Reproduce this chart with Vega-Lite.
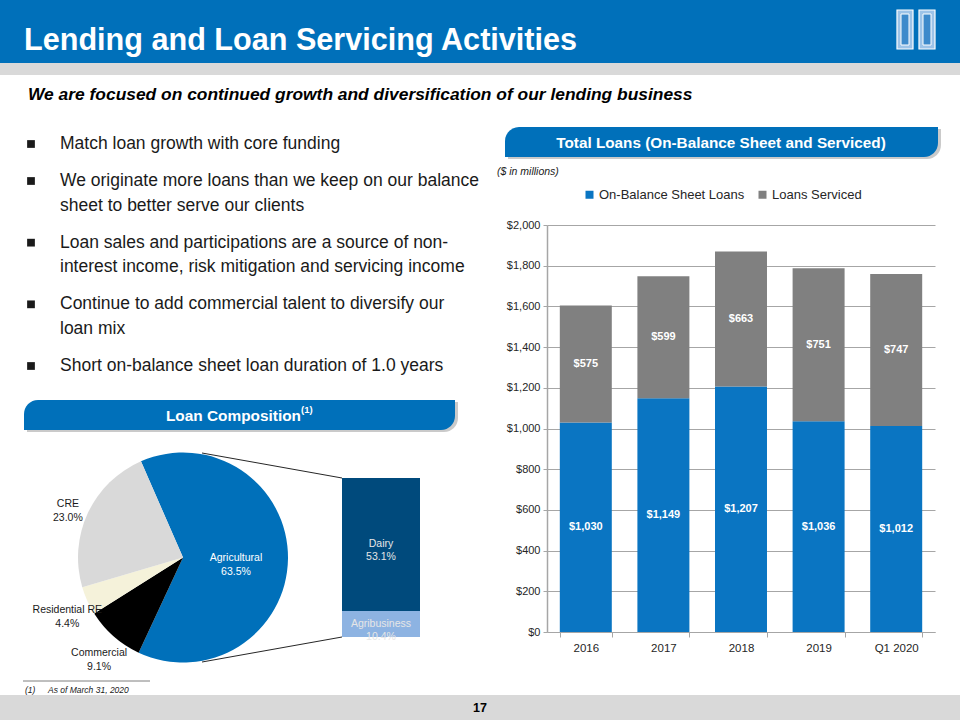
{
  "$schema": "https://vega.github.io/schema/vega-lite/v6.json",
  "padding": 0,
  "spacing": 0,
  "bounds": "full",
  "resolve": {"scale": {"color": "independent"}, "legend": {"color": "independent"}},
  "config": {"view": {"stroke": null}, "font": "Liberation Sans", "concat": {"spacing": 0}},
  "vconcat": [
    {
      "width": 960, "height": 63,
      "data": {"values": [{"title": "Lending and Loan Servicing Activities"}]},
      "layer": [
        {"mark": {"type": "rect", "color": "#0070BA"}, "encoding": {}},
        {"mark": {"type": "text", "align": "left", "baseline": "alphabetic", "color": "white", "fontSize": 30.6, "fontWeight": "bold"},
         "encoding": {"text": {"field": "title"}, "x": {"value": 24}, "y": {"value": 50}}},
        {"mark": {"type": "rect", "fill": "#9CC3E8", "stroke": "white", "strokeWidth": 1.2}, "encoding": {"x": {"value": 897}, "x2": {"value": 913}, "y": {"value": 10}, "y2": {"value": 49}}},
        {"mark": {"type": "rect", "fill": "#3D8ACB", "stroke": "white", "strokeWidth": 1}, "encoding": {"x": {"value": 901}, "x2": {"value": 909}, "y": {"value": 14}, "y2": {"value": 45}}},
        {"mark": {"type": "rect", "fill": "#9CC3E8", "stroke": "white", "strokeWidth": 1.2}, "encoding": {"x": {"value": 919}, "x2": {"value": 935}, "y": {"value": 10}, "y2": {"value": 49}}},
        {"mark": {"type": "rect", "fill": "#3D8ACB", "stroke": "white", "strokeWidth": 1}, "encoding": {"x": {"value": 923}, "x2": {"value": 931}, "y": {"value": 14}, "y2": {"value": 45}}}
      ]
    },
    {"width": 960, "height": 12, "data": {"values": [{"strip": "gray"}]}, "mark": {"type": "rect", "color": "#D9D9D9"}, "encoding": {}},
    {
      "width": 960, "height": 43,
      "data": {"values": [{"t": "We are focused on continued growth and diversification of our lending business"}]},
      "mark": {"type": "text", "align": "left", "baseline": "middle", "fontSize": 17.4, "fontWeight": "bold", "fontStyle": "italic", "color": "#000000"},
      "encoding": {"text": {"field": "t"}, "x": {"value": 28}, "y": {"value": 20}}
    },
    {
      "spacing": 0,
      "bounds": "full",
      "resolve": {"scale": {"color": "independent"}, "legend": {"color": "independent"}},
      "hconcat": [
        {
          "spacing": 0,
          "bounds": "flush",
          "resolve": {"scale": {"color": "independent"}, "legend": {"color": "independent"}},
          "vconcat": [
            {
              "width": 490, "height": 280,
              "data": {"values": [
                {"line": 0, "bullet": true, "text": "Match loan growth with core funding"},
                {"line": 3, "bullet": true, "text": "We originate more loans than we keep on our balance"},
                {"line": 5, "bullet": false, "text": "sheet to better serve our clients"},
                {"line": 8, "bullet": true, "text": "Loan sales and participations are a source of non-"},
                {"line": 10, "bullet": false, "text": "interest income, risk mitigation and servicing income"},
                {"line": 13, "bullet": true, "text": "Continue to add commercial talent to diversify our"},
                {"line": 15, "bullet": false, "text": "loan mix"},
                {"line": 18, "bullet": true, "text": "Short on-balance sheet loan duration of 1.0 years"}
              ]},
              "layer": [
                {"transform": [{"filter": "datum.bullet"}],
                 "mark": {"type": "square", "size": 60, "color": "#1A1A1A", "opacity": 1},
                 "encoding": {"x": {"value": 31}, "y": {"field": "line", "type": "quantitative", "scale": {"domain": [0, 18], "range": [26, 248]}, "axis": null}}},
                {"mark": {"type": "text", "align": "left", "baseline": "middle", "fontSize": 17.5, "color": "#1A1A1A"},
                 "encoding": {"x": {"value": 60}, "y": {"field": "line", "type": "quantitative", "scale": {"domain": [0, 18], "range": [26, 248]}, "axis": null}, "text": {"field": "text"}}}
              ]
            },
            {
              "width": 490, "height": 34,
              "data": {"values": [{"t": "Loan Composition", "note": "(1)"}]},
              "layer": [
                {"mark": {"type": "rect", "color": "#A6A6A6", "opacity": 0.6, "cornerRadiusTopLeft": 14, "cornerRadiusBottomRight": 14}, "encoding": {"x": {"value": 27}, "x2": {"value": 458}, "y": {"value": 4}, "y2": {"value": 34}}},
                {"mark": {"type": "rect", "color": "#0070BA", "cornerRadiusTopLeft": 14, "cornerRadiusBottomRight": 14}, "encoding": {"x": {"value": 24}, "x2": {"value": 455}, "y": {"value": 2}, "y2": {"value": 32}}},
                {"mark": {"type": "text", "align": "right", "baseline": "middle", "color": "white", "fontWeight": "bold", "fontSize": 15.4}, "encoding": {"text": {"field": "t"}, "x": {"value": 301}, "y": {"value": 18}}},
                {"mark": {"type": "text", "align": "left", "baseline": "middle", "color": "white", "fontWeight": "bold", "fontSize": 9.5}, "encoding": {"text": {"field": "note"}, "x": {"value": 301}, "y": {"value": 12}}}
              ]
            },
            {
              "width": 490, "height": 263,
              "layer": [
                {"data": {"values": [{"link": "top"}]}, "mark": {"type": "rule", "color": "#262626", "strokeWidth": 1}, "encoding": {"x": {"value": 202}, "y": {"value": 21}, "x2": {"value": 342}, "y2": {"value": 46}}},
                {"data": {"values": [{"link": "bottom"}]}, "mark": {"type": "rule", "color": "#262626", "strokeWidth": 1}, "encoding": {"x": {"value": 202}, "y": {"value": 230}, "x2": {"value": 342}, "y2": {"value": 205}}},
                {
                  "data": {"values": [
                    {"cat": "Agricultural", "pct": 63.5, "ord": 1, "label": "Agricultural\n63.5%"},
                    {"cat": "Commercial", "pct": 9.1, "ord": 2, "label": "Commercial\n9.1%"},
                    {"cat": "Residential RE", "pct": 4.4, "ord": 3, "label": "Residential RE\n4.4%"},
                    {"cat": "CRE", "pct": 23.0, "ord": 4, "label": "CRE\n23.0%"}
                  ]},
                  "layer": [
                    {"mark": {"type": "arc", "outerRadius": 105},
                     "encoding": {
                       "x": {"value": 183}, "y": {"value": 125.5},
                       "theta": {"field": "pct", "type": "quantitative", "stack": true, "scale": {"range": [-0.4119, 5.8713]}},
                       "order": {"field": "ord"},
                       "color": {"field": "cat", "type": "nominal", "scale": {"domain": ["Agricultural", "Commercial", "Residential RE", "CRE", "Dairy", "Agribusiness"], "range": ["#0070BA", "#000000", "#F5F2DA", "#D9D9D9", "#004A7C", "#8DB3E2"]}, "legend": null}
                     }},
                    {"mark": {"type": "text", "radius": 53, "color": "white", "fontSize": 10.5, "lineBreak": "\n", "lineHeight": 14},
                     "encoding": {
                       "x": {"value": 183}, "y": {"value": 125.5},
                       "theta": {"field": "pct", "type": "quantitative", "stack": true, "scale": {"range": [-0.4119, 5.8713]}},
                       "order": {"field": "ord"},
                       "text": {"condition": {"test": "datum.cat === 'Agricultural'", "field": "label"}, "value": ""}
                     }},
                    {"mark": {"type": "text", "radius": 127, "color": "#1A1A1A", "fontSize": 10.5, "lineBreak": "\n", "lineHeight": 14},
                     "encoding": {
                       "x": {"value": 183}, "y": {"value": 125.5},
                       "theta": {"field": "pct", "type": "quantitative", "stack": true, "scale": {"range": [-0.4119, 5.8713]}},
                       "order": {"field": "ord"},
                       "text": {"condition": {"test": "datum.cat !== 'Agricultural'", "field": "label"}, "value": ""}
                     }}
                  ]
                },
                {
                  "data": {"values": [
                    {"group": "Agricultural", "cat": "Agribusiness", "pct": 10.4, "ord": 1, "label": "Agribusiness\n10.4%"},
                    {"group": "Agricultural", "cat": "Dairy", "pct": 53.1, "ord": 2, "label": "Dairy\n53.1%"}
                  ]},
                  "layer": [
                    {"mark": {"type": "bar"},
                     "encoding": {
                       "x": {"field": "group", "type": "nominal", "scale": {"range": [342, 420], "paddingInner": 0, "paddingOuter": 0}, "axis": null},
                       "y": {"field": "pct", "type": "quantitative", "stack": "zero", "scale": {"domain": [0, 63.5], "range": [205, 46]}, "axis": null},
                       "order": {"field": "ord"},
                       "color": {"field": "cat", "type": "nominal", "scale": {"domain": ["Agricultural", "Commercial", "Residential RE", "CRE", "Dairy", "Agribusiness"], "range": ["#0070BA", "#000000", "#F5F2DA", "#D9D9D9", "#004A7C", "#8DB3E2"]}, "legend": null}
                     }},
                    {"mark": {"type": "text", "color": "#E6E6E6", "fontSize": 10.5, "lineBreak": "\n", "lineHeight": 13, "baseline": "middle"},
                     "encoding": {
                       "x": {"field": "group", "type": "nominal", "scale": {"range": [342, 420], "paddingInner": 0, "paddingOuter": 0}, "axis": null},
                       "y": {"field": "pct", "type": "quantitative", "stack": "zero", "bandPosition": 0.5, "scale": {"domain": [0, 63.5], "range": [205, 46]}, "axis": null},
                       "order": {"field": "ord"},
                       "detail": {"field": "cat"},
                       "text": {"field": "label"}
                     }}
                  ]
                },
                {"data": {"values": [{"n": "(1)", "note": "As of March 31, 2020"}]},
                 "layer": [
                   {"mark": {"type": "rule", "color": "#7F7F7F", "strokeWidth": 1}, "encoding": {"x": {"value": 23}, "x2": {"value": 150}, "y": {"value": 249}, "y2": {"value": 249}}},
                   {"mark": {"type": "text", "align": "left", "baseline": "middle", "fontStyle": "italic", "fontSize": 8.5, "color": "#1A1A1A"}, "encoding": {"text": {"field": "n"}, "x": {"value": 25}, "y": {"value": 258}}},
                   {"mark": {"type": "text", "align": "left", "baseline": "middle", "fontStyle": "italic", "fontSize": 8.5, "color": "#1A1A1A"}, "encoding": {"text": {"field": "note"}, "x": {"value": 48}, "y": {"value": 258}}}
                 ]}
              ]
            }
          ]
        },
        {
          "spacing": 8,
          "bounds": "full",
          "resolve": {"scale": {"color": "independent"}, "legend": {"color": "independent"}},
          "vconcat": [
            {
              "width": 470, "height": 62,
              "data": {"values": [{"t": "Total Loans (On-Balance Sheet and Serviced)", "u": "($ in millions)"}]},
              "layer": [
                {"mark": {"type": "rect", "color": "#A6A6A6", "opacity": 0.6, "cornerRadiusTopLeft": 14, "cornerRadiusBottomRight": 14}, "encoding": {"x": {"value": 18}, "x2": {"value": 451}, "y": {"value": 11}, "y2": {"value": 41}}},
                {"mark": {"type": "rect", "color": "#0070BA", "cornerRadiusTopLeft": 14, "cornerRadiusBottomRight": 14}, "encoding": {"x": {"value": 15}, "x2": {"value": 448}, "y": {"value": 9}, "y2": {"value": 39}}},
                {"mark": {"type": "text", "color": "white", "fontWeight": "bold", "fontSize": 15.3, "baseline": "middle"}, "encoding": {"text": {"field": "t"}, "x": {"value": 231}, "y": {"value": 24.5}}},
                {"mark": {"type": "text", "align": "left", "baseline": "middle", "fontStyle": "italic", "fontSize": 10.5, "color": "#1A1A1A"}, "encoding": {"text": {"field": "u"}, "x": {"value": 7}, "y": {"value": 54}}}
              ]
            },
            {
              "spacing": 0,
              "bounds": "flush",
              "resolve": {"scale": {"color": "independent"}, "legend": {"color": "independent"}},
              "hconcat": [
                {"width": 57, "height": 407, "data": {"values": [{"pad": 0}]}, "mark": {"type": "rect", "opacity": 0}, "encoding": {}},
                {
                  "width": 388, "height": 407,
                  "data": {"values": [
                    {"period": "2016", "series": "On-Balance Sheet Loans", "value": 1030},
                    {"period": "2016", "series": "Loans Serviced", "value": 575},
                    {"period": "2017", "series": "On-Balance Sheet Loans", "value": 1149},
                    {"period": "2017", "series": "Loans Serviced", "value": 599},
                    {"period": "2018", "series": "On-Balance Sheet Loans", "value": 1207},
                    {"period": "2018", "series": "Loans Serviced", "value": 663},
                    {"period": "2019", "series": "On-Balance Sheet Loans", "value": 1036},
                    {"period": "2019", "series": "Loans Serviced", "value": 751},
                    {"period": "Q1 2020", "series": "On-Balance Sheet Loans", "value": 1012},
                    {"period": "Q1 2020", "series": "Loans Serviced", "value": 747}
                  ]},
                  "encoding": {
                    "x": {"field": "period", "type": "nominal", "sort": null, "scale": {"paddingInner": 0.33, "paddingOuter": 0.165},
                          "axis": {"title": null, "labelAngle": 0, "tickBand": "extent", "domainColor": "#A6A6A6", "tickColor": "#A6A6A6", "tickSize": 5, "labelFontSize": 11.5, "labelColor": "#262626", "labelPadding": 5, "grid": false}},
                    "order": {"field": "series", "sort": "descending"}
                  },
                  "layer": [
                    {"mark": {"type": "bar"},
                     "encoding": {
                       "y": {"field": "value", "type": "quantitative", "stack": "zero", "scale": {"domain": [0, 2000]},
                             "axis": {"title": null, "values": [0, 200, 400, 600, 800, 1000, 1200, 1400, 1600, 1800, 2000], "format": "$,.0f", "labelFontSize": 11, "labelColor": "#262626", "gridColor": "#A6A6A6", "domainColor": "#A6A6A6", "domainWidth": 1.5, "tickColor": "#A6A6A6", "tickSize": 4, "labelPadding": 3}},
                       "color": {"field": "series", "type": "nominal", "scale": {"domain": ["On-Balance Sheet Loans", "Loans Serviced"], "range": ["#0A75C2", "#808080"]},
                         "legend": {"title": null, "orient": "none", "legendX": 36, "legendY": -37, "direction": "horizontal", "symbolType": "square", "symbolSize": 64, "symbolStrokeWidth": 0, "labelFontSize": 13, "labelColor": "#262626", "columnPadding": 11, "labelOffset": 3}}}},
                    {"mark": {"type": "text", "color": "white", "fontWeight": "bold", "fontSize": 11, "baseline": "middle"},
                     "encoding": {
                       "y": {"field": "value", "type": "quantitative", "stack": "zero", "bandPosition": 0.5},
                       "detail": {"field": "series"},
                       "text": {"field": "value", "type": "quantitative", "format": "$,.0f"}}}
                  ]
                }
              ]
            }
          ]
        }
      ]
    },
    {
      "width": 960, "height": 25,
      "data": {"values": [{"page": "17"}]},
      "layer": [
        {"mark": {"type": "rect", "color": "#D9D9D9"}, "encoding": {}},
        {"mark": {"type": "text", "fontWeight": "bold", "fontSize": 12.5, "color": "#000000", "baseline": "middle"}, "encoding": {"text": {"field": "page"}}}
      ]
    }
  ]
}
